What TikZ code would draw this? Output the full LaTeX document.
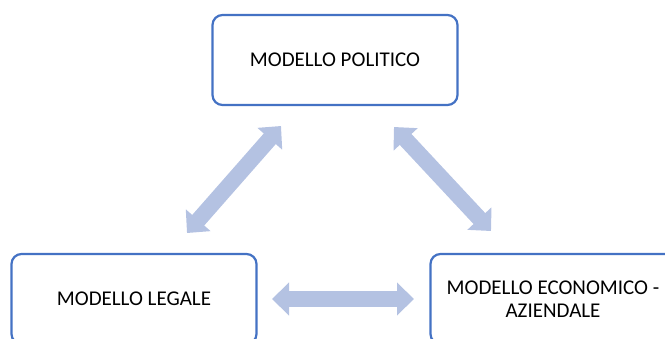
\documentclass[tikz,border=0pt]{standalone}
\usepackage{fontspec}
\setmainfont{Carlito}
\usetikzlibrary{arrows.meta}
\definecolor{boxline}{HTML}{4472C4}
\definecolor{arrowfill}{HTML}{B4C2E2}
\begin{document}
\begin{tikzpicture}[x=1pt,y=-1pt,
  model/.style={draw=boxline, line width=2.2pt, rounded corners=10pt, fill=white,
    minimum width=245pt, minimum height=90pt, inner sep=0pt, align=center,
    font=\fontsize{21}{23.5}\selectfont},
  link/.style={draw=arrowfill, line width=16pt,
    {Triangle[width=32pt,length=17pt]}-{Triangle[width=32pt,length=17pt]}}]
  \useasboundingbox (0,0) rectangle (665,338);
  \clip (0,0) rectangle (665,338);
  % the three models
  \node[model] (pol) at (335,60) {MODELLO POLITICO};
  \node[model] (leg) at (134,299) {MODELLO LEGALE};
  \node[model] (eco) at (553,299) {MODELLO ECONOMICO -\\AZIENDALE};
  % free ends of the double arrows
  \coordinate (pl1) at (281,126);
  \coordinate (pl2) at (187,233);
  \coordinate (pe1) at (394,127);
  \coordinate (pe2) at (491,231);
  \coordinate (le1) at (272,299);
  \coordinate (le2) at (414,299);
  % mutual relations
  \draw[link] (pl1) -- (pl2);
  \draw[link] (pe1) -- (pe2);
  \draw[link] (le1) -- (le2);
\end{tikzpicture}
\end{document}
